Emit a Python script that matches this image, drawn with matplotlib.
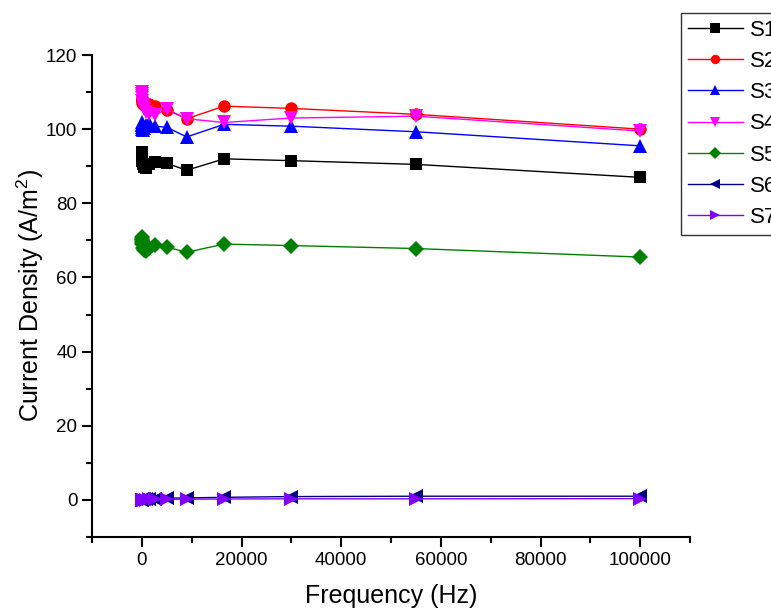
import matplotlib
matplotlib.use("Agg")
import matplotlib.pyplot as plt
from matplotlib.ticker import MultipleLocator

plt.rcParams['font.family'] = ['Liberation Sans', 'DejaVu Sans']
plt.rcParams['mathtext.fontset'] = 'custom'
plt.rcParams['mathtext.rm'] = 'Liberation Sans'
plt.rcParams['mathtext.it'] = 'Liberation Sans:italic'

freq = [10, 20, 40, 70, 130, 250, 450, 800, 1500, 2700, 5000, 9000, 16500, 30000, 55000, 100000]

s1 = [93.8, 93.5, 93.0, 92.5, 91.5, 90.5, 89.8, 89.5, 90.5, 91.2, 90.8, 88.9, 92.0, 91.5, 90.5, 87.0]
s2 = [108.5, 108.0, 107.8, 107.5, 107.0, 106.8, 106.5, 106.5, 106.8, 106.2, 105.2, 102.8, 106.2, 105.6, 104.0, 100.0]
s3 = [102.0, 101.5, 101.0, 100.5, 100.0, 99.8, 100.2, 101.0, 101.6, 100.8, 100.5, 97.9, 101.3, 100.8, 99.3, 95.5]
s4 = [110.0, 109.5, 109.0, 108.5, 107.5, 106.5, 105.5, 104.5, 104.0, 103.8, 105.4, 102.8, 101.8, 103.0, 103.5, 99.5]
s5 = [71.0, 70.5, 70.0, 69.5, 69.0, 68.0, 67.5, 67.2, 68.0, 68.8, 68.2, 66.8, 69.0, 68.6, 67.8, 65.5]
s6 = [0.05, 0.05, 0.1, 0.1, 0.15, 0.2, 0.2, 0.25, 0.3, 0.35, 0.45, 0.55, 0.7, 0.9, 1.0, 1.0]
s7 = [0.0, 0.0, 0.0, 0.05, 0.05, 0.1, 0.1, 0.1, 0.15, 0.15, 0.2, 0.2, 0.25, 0.3, 0.3, 0.35]

labels = ['S1', 'S2', 'S3', 'S4', 'S5', 'S6', 'S7']
series = [s1, s2, s3, s4, s5, s6, s7]
colors = ['#000000', '#FF0000', '#0000FF', '#FF00FF', '#008000', '#000080', '#8000FF']
markers = ['s', 'o', '^', 'v', 'D', '<', '>']
msizes = [9, 9, 10, 10, 8.5, 10, 10]

fig = plt.figure(figsize=(7.71, 6.10), dpi=100)
ax = fig.add_axes([92/771, 1-537/610, (690-92)/771, (537-55)/610])

for lab, ys, c, m, ms in zip(labels, series, colors, markers, msizes):
    ax.plot(freq, ys, color=c, marker=m, markersize=ms, linewidth=1.0,
            markeredgewidth=0, label=lab)

ax.set_xlim(-10000, 110000)
ax.set_ylim(-10, 120)
ax.xaxis.set_major_locator(MultipleLocator(20000))
ax.xaxis.set_minor_locator(MultipleLocator(10000))
ax.yaxis.set_major_locator(MultipleLocator(20))
ax.yaxis.set_minor_locator(MultipleLocator(10))
ax.spines['top'].set_visible(False)
ax.spines['right'].set_visible(False)
for s in ['left', 'bottom']:
    ax.spines[s].set_linewidth(1.5)
ax.tick_params(which='major', direction='out', length=7, width=1.5, labelsize=13.5)
ax.tick_params(which='minor', direction='out', length=4, width=1.5)

ax.set_xlabel('Frequency (Hz)', fontsize=18, labelpad=11)
ax.set_ylabel(r'Current Density (A/m$^2$)', fontsize=18, labelpad=0)

leg = fig.legend(loc='upper left', bbox_to_anchor=(681/771, 1-13/610),
                 fontsize=16, frameon=True, fancybox=False, edgecolor='black',
                 handlelength=2.5, handletextpad=0.3, labelspacing=0.46,
                 borderpad=0.3, borderaxespad=0, markerscale=0.75)
leg.get_frame().set_linewidth(1.0)

fig.savefig('out.png', dpi=100)
